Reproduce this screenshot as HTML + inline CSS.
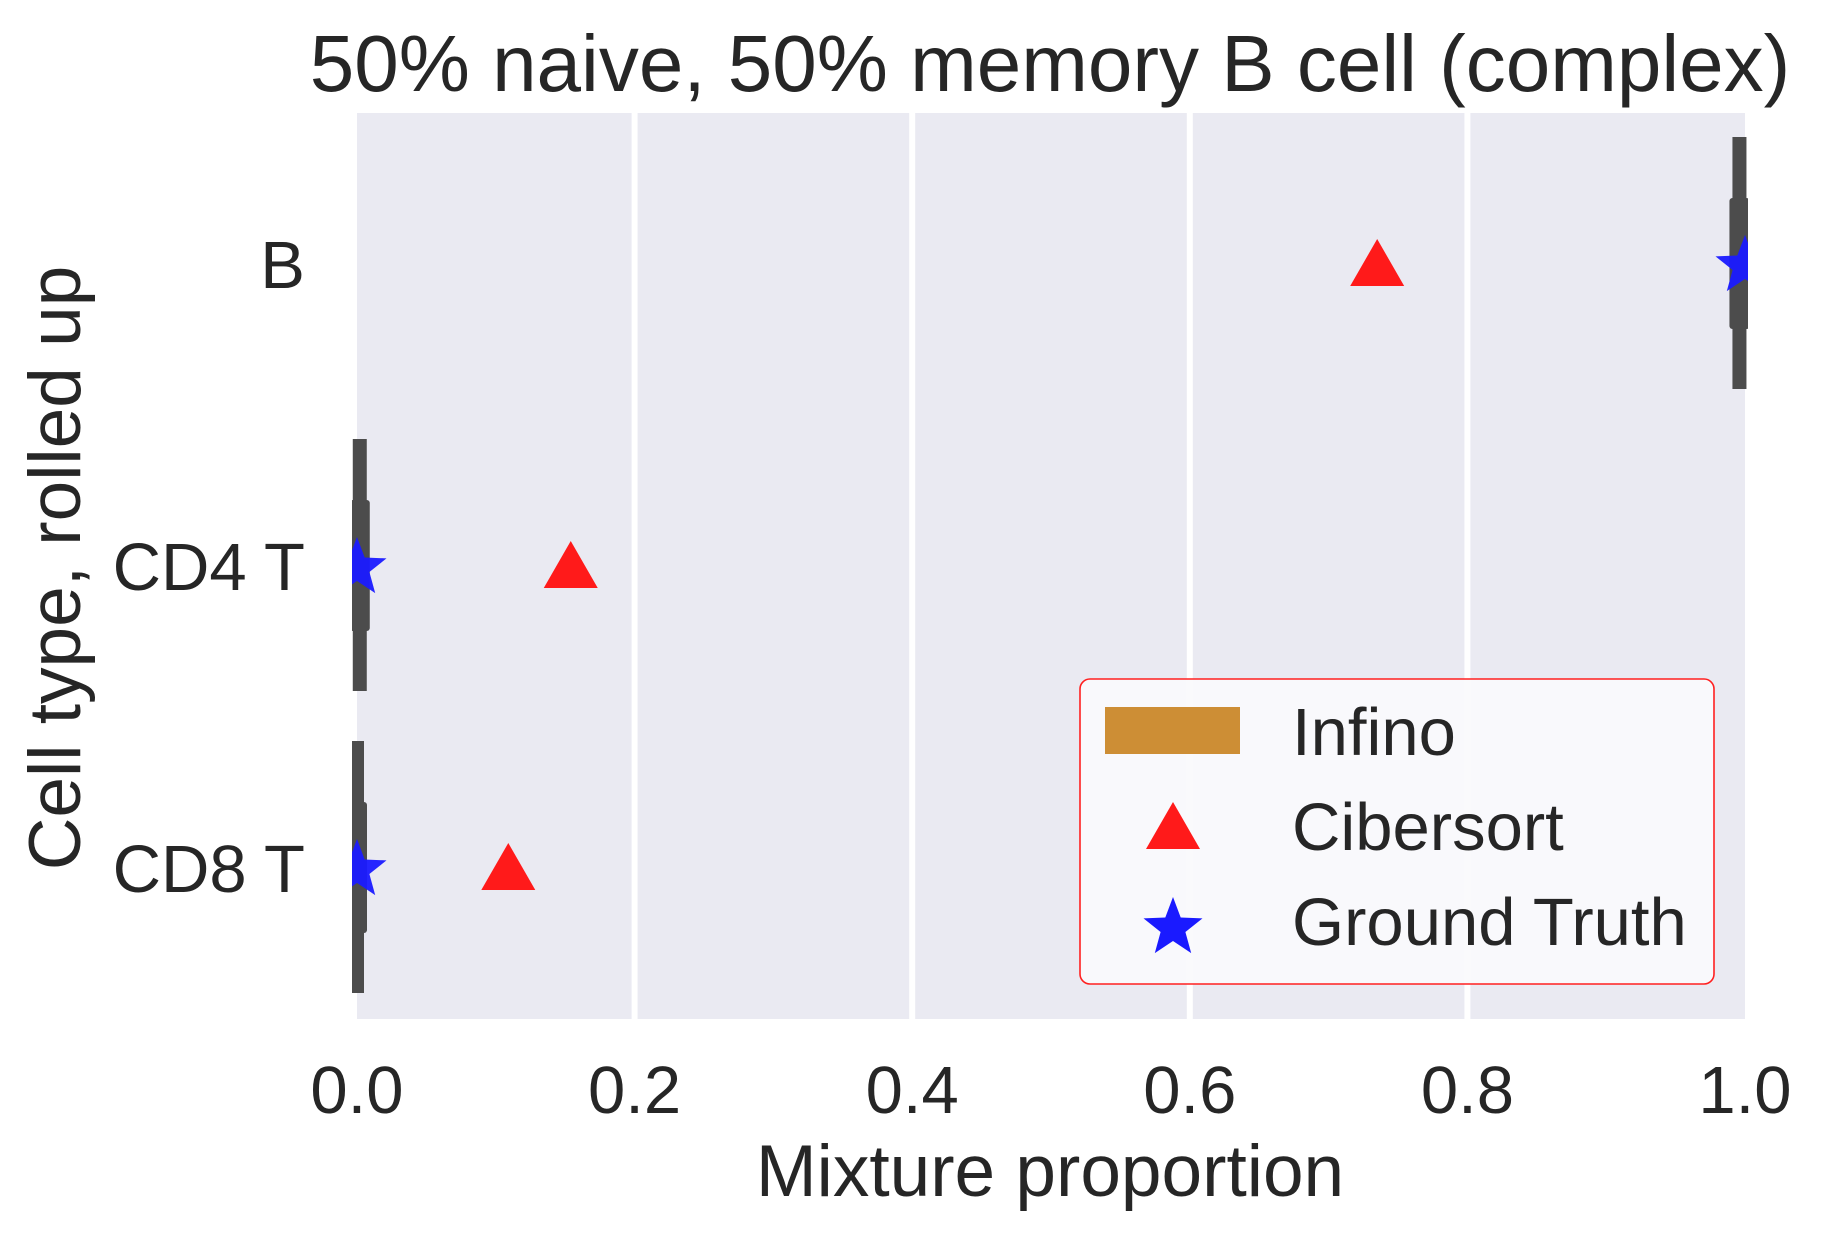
<!DOCTYPE html>
<html><head><meta charset="utf-8"><style>
html,body{margin:0;padding:0;background:#fff;}
svg{display:block;font-family:"Liberation Sans",Arial,sans-serif;}
</style></head><body>
<svg id="chart" width="1824" height="1241" viewBox="0 0 1824 1241" xmlns="http://www.w3.org/2000/svg">
<defs><clipPath id="pc"><rect x="352" y="113" width="1396" height="906"/></clipPath></defs>
<rect x="357" y="113" width="1388" height="906" fill="#eaeaf2"/>
<g id="grid"></g>
<g id="marks" clip-path="url(#pc)"></g>
<g id="ticks"></g>
<text x="1050" y="91" font-size="80" text-anchor="middle" fill="#262626">50% naive, 50% memory B cell (complex)</text>
<text x="1050" y="1196" font-size="73" text-anchor="middle" fill="#262626">Mixture proportion</text>
<text transform="translate(80,568) rotate(-90)" font-size="73" text-anchor="middle" fill="#262626">Cell type, rolled up</text>
<g>
<rect x="1080" y="679" width="634" height="305" rx="10" fill="#fafafc" fill-opacity="0.95" stroke="#ff2020" stroke-width="1.6"/>
<rect x="1105" y="707" width="135" height="47" fill="#cd8e35"/>
<text x="1292" y="755" font-size="67" fill="#262626">Infino</text>
<polygon points="1173,802 1200,849 1146,849" fill="#ff1a1a"/>
<text x="1292" y="850" font-size="67" fill="#262626">Cibersort</text>
<polygon id="legstar" fill="#1a1aff"/>
<text x="1292" y="945" font-size="67" fill="#262626">Ground Truth</text>
</g>
</svg>
<script>
const categories = ["B", "CD4 T", "CD8 T"];
const infinoValues = [0.996, 0.002, 0.0];
const cibersortValues = [0.735, 0.154, 0.109];
const groundTruthValues = [1.0, 0.0, 0.0];
const xTicks = [0, 0.2, 0.4, 0.6, 0.8, 1.0];
const xTickLabels = ["0.0", "0.2", "0.4", "0.6", "0.8", "1.0"];

const NS = "http://www.w3.org/2000/svg";
const L = 357, R = 1745, T = 113, B = 1019;
const xs = v => L + v * (R - L);
const band = (B - T) / categories.length;
const ys = i => T + band * (i + 0.5);
function mk(tag, attrs, parent) {
  const e = document.createElementNS(NS, tag);
  for (const k in attrs) e.setAttribute(k, attrs[k]);
  parent.appendChild(e);
  return e;
}
function starPts(cx, cy, r) {
  const p = [];
  for (let k = 0; k < 10; k++) {
    const rr = k % 2 ? r * 0.42 : r;
    const a = -Math.PI / 2 + k * Math.PI / 5;
    p.push((cx + rr * Math.cos(a)).toFixed(1) + "," + (cy + rr * Math.sin(a)).toFixed(1));
  }
  return p.join(" ");
}
const grid = document.getElementById("grid");
const ticks = document.getElementById("ticks");
const marks = document.getElementById("marks");
xTicks.forEach((t, i) => {
  if (t > 0 && t < 1) {
    const g = mk("line", {x1: xs(t), x2: xs(t), y1: T, y2: B, stroke: "#ffffff", "stroke-width": 6}, grid);
    
    
  }
  const tx = mk("text", {x: xs(t), y: 1113, "font-size": 67, "text-anchor": "middle", fill: "#262626"}, ticks);
  tx.textContent = xTickLabels[i];
  
  
});
categories.forEach((c, i) => {
  const cy = ys(i);
  const lab = mk("text", {x: 305, y: cy + 24, "font-size": 67, "text-anchor": "end", fill: "#262626"}, ticks);
  lab.textContent = c;
  
  
  const x = xs(infinoValues[i]);
  const w = mk("rect", {x: x - 7, y: cy - 127, width: 14, height: 252, fill: "#4c4c4c"}, marks);
  
  
  const bx = mk("rect", {x: x - 10, y: cy - 66, width: 20, height: 131, rx: 3, fill: "#4c4c4c"}, marks);
  
  
  const cx = xs(cibersortValues[i]);
  const tri = mk("polygon", {points: `${cx},${cy - 25} ${cx + 27},${cy + 22} ${cx - 27},${cy + 22}`, fill: "#ff1a1a"}, marks);
  
  
  const st = mk("polygon", {points: starPts(xs(groundTruthValues[i]), cy + 2, 31), fill: "#1a1aff", "fill-opacity": 0.95}, marks);
  
  
});
document.getElementById("legstar").setAttribute("points", starPts(1173, 928, 31));
</script>
</body></html>
